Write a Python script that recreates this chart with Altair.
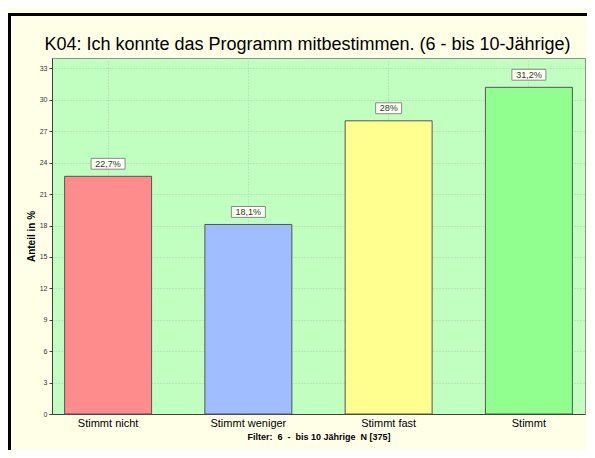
import altair as alt
import pandas as pd

categories = ["Stimmt nicht", "Stimmt weniger", "Stimmt fast", "Stimmt"]
values = [22.7, 18.1, 28.0, 31.2]
labels = ["22,7%", "18,1%", "28%", "31,2%"]
colors = ["#FF8C8C", "#A0BEFF", "#FFFF90", "#90FF90"]
y_ticks = [0, 3, 6, 9, 12, 15, 18, 21, 24, 27, 30, 33]

title_text = "K04: Ich konnte das Programm mitbestimmen. (6 - bis 10-Jährige)"
filter_text = "Filter:\u00a0 6 \u00a0-\u00a0 bis 10 Jährige\u00a0 N [375]"

df = pd.DataFrame({"cat": categories, "val": values, "lab": labels})

FONT = "Liberation Sans"

xscale = alt.Scale(domain=categories, paddingInner=0.38, paddingOuter=0.09)
yscale = alt.Scale(domain=[0, 34], nice=False)

x_axis = alt.Axis(
    title=filter_text,
    titleFontSize=9,
    titleFontWeight="bold",
    titleColor="#000000",
    titlePadding=4,
    labelFontSize=11,
    labelColor="#000000",
    labelAngle=0,
    labelPadding=3,
    ticks=False,
    grid=True,
    bandPosition=0.5,
    gridColor="#b0c8b0",
    gridDash=[1, 2],
    domainColor="#404040",
)

y_axis = alt.Axis(
    title="Anteil in %",
    titleFontSize=10,
    titleFontWeight="bold",
    titleColor="#000000",
    titlePadding=3,
    values=y_ticks,
    labelOverlap=False,
    labelFontSize=7,
    labelColor="#333333",
    labelPadding=2,
    tickSize=3,
    tickColor="#404040",
    grid=True,
    gridColor="#b0c8b0",
    gridDash=[1, 2],
    domainColor="#404040",
)


def xe():
    return alt.X("cat:N", scale=xscale, sort=categories, axis=x_axis)


def ye(field):
    return alt.Y(field, scale=yscale, axis=y_axis)


bars = alt.Chart(df).mark_bar(stroke="#555555", strokeWidth=1).encode(
    x=xe(),
    y=ye("val:Q"),
    color=alt.Color("cat:N", scale=alt.Scale(domain=categories, range=colors), legend=None),
)

box_base = alt.Chart(df).transform_calculate(
    b0="datum.val + 0.68", b1="datum.val + 1.72", tm="datum.val + 1.2"
)

box_wide = box_base.transform_filter("length(datum.lab) > 3").mark_bar(
    width=34, fill="#FFFFF4", stroke="#888888", strokeWidth=1
).encode(x=xe(), y=ye("b0:Q"), y2="b1:Q")

box_narrow = box_base.transform_filter("length(datum.lab) <= 3").mark_bar(
    width=26, fill="#FFFFF4", stroke="#888888", strokeWidth=1
).encode(x=xe(), y=ye("b0:Q"), y2="b1:Q")

texts = box_base.mark_text(fontSize=9, color="#333333", font=FONT, baseline="middle").encode(
    x=xe(), y=ye("tm:Q"), text="lab:N"
)

frame_df = pd.DataFrame({"t": [title_text]})
top_line = alt.Chart(frame_df).mark_rule(color="#000000", strokeWidth=3).encode(
    x=alt.value(-44), x2=alt.value(540), y=alt.value(-43.5)
)
left_line = alt.Chart(frame_df).mark_rule(color="#000000", strokeWidth=3).encode(
    x=alt.value(-42.5), y=alt.value(-45), y2=alt.value(400)
)
title_mark = alt.Chart(frame_df).mark_text(
    fontSize=18, font=FONT, color="#000000", align="center", baseline="alphabetic"
).encode(x=alt.value(255.5), y=alt.value(-8), text="t:N")

chart = alt.layer(bars, box_wide, box_narrow, texts, top_line, left_line, title_mark).properties(
    width=533,
    height=356,
    padding={"left": 44, "top": 50, "right": 2, "bottom": 36},
    autosize=alt.AutoSizeParams(type="none"),
    background="#FFFFE8",
).configure_view(
    fill="#C0FFC0", stroke="#909090", strokeWidth=1
).configure_axis(
    labelFont=FONT, titleFont=FONT
)

chart.save("out.html", embed_options={"renderer": "svg", "actions": False})
